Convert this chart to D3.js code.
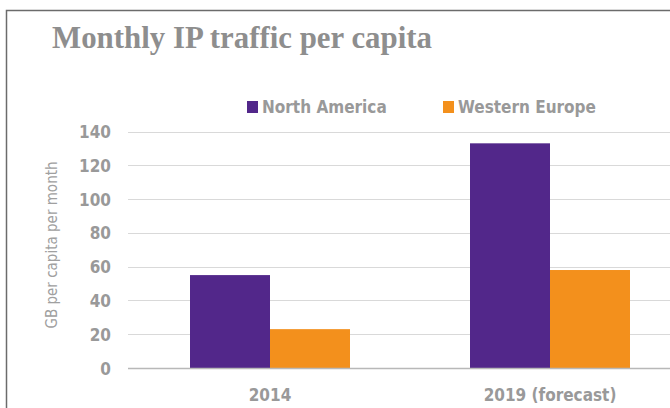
<!DOCTYPE html>
<html>
<head>
<meta charset="utf-8">
<script src="https://cdn.jsdelivr.net/npm/d3@7"></script>
<style>
  html, body { margin: 0; padding: 0; background: #fff; }
  svg { display: block; }
</style>
</head>
<body>
<script>
const categories = ["2014", "2019 (forecast)"];
const seriesNames = ["North America", "Western Europe"];
const northAmerica = [55, 133];
const westernEurope = [23, 58];
const yTicks = [0, 20, 40, 60, 80, 100, 120, 140];

const W = 670, H = 408;
const colors = ["#52278a", "#f3901c"];
const narrow = "'Liberation Sans Narrow', 'Arial Narrow', 'DejaVu Sans Condensed', sans-serif";

const svg = d3.select("body").append("svg").attr("width", W).attr("height", H);

// frame
svg.append("path")
  .attr("d", `M6.5,${H} L6.5,10.5 L${W},10.5`)
  .attr("fill", "none").attr("stroke", "#6b6b6b").attr("stroke-width", 1.5);

// title
svg.append("text")
  .attr("x", 52).attr("y", 48)
  .attr("font-family", "'Liberation Serif', 'DejaVu Serif', serif")
  .attr("font-weight", "bold").attr("font-size", 31)
  .attr("textLength", 380).attr("lengthAdjust", "spacingAndGlyphs")
  .attr("fill", "#8e8e8e")
  .text("Monthly IP traffic per capita");

const x0 = d3.scaleBand().domain(categories).range([130, 690])
  .paddingInner(120 / 280).paddingOuter(60 / 280);
const x1 = d3.scaleBand().domain(seriesNames).range([0, x0.bandwidth()]).padding(0);
const y = d3.scaleLinear().domain([0, 140]).range([368, 131.5]);

// gridlines
const grid = svg.append("g");
grid.selectAll("line").data(yTicks.filter(d => d > 0)).join("line")
  .attr("x1", 128).attr("x2", W)
  .attr("y1", d => Math.round(y(d)) + 0.5).attr("y2", d => Math.round(y(d)) + 0.5)
  .attr("stroke", "#d9d9d9").attr("stroke-width", 1);

// y axis labels
const yAxis = d3.axisLeft(y).tickValues(yTicks).tickSize(0).tickPadding(0);
const yg = svg.append("g").attr("transform", "translate(111,0)").call(yAxis);
yg.select(".domain").remove();
yg.selectAll("text")
  .attr("font-family", narrow).attr("font-weight", "bold").attr("font-size", 17)
  .attr("fill", "#999999").attr("dy", "0.36em");

// bars
const data = categories.map((c, i) => ({ cat: c, vals: [northAmerica[i], westernEurope[i]] }));
const groups = svg.append("g").selectAll("g").data(data).join("g")
  .attr("transform", d => `translate(${x0(d.cat)},0)`);
groups.selectAll("rect").data(d => d.vals.map((v, j) => ({ v, s: seriesNames[j], j }))).join("rect")
  .attr("x", d => x1(d.s)).attr("width", x1.bandwidth())
  .attr("y", d => y(d.v)).attr("height", d => y(0) - y(d.v))
  .attr("fill", d => colors[d.j]);

// baseline
svg.append("line")
  .attr("x1", 128).attr("x2", W).attr("y1", y(0) + 0.5).attr("y2", y(0) + 0.5)
  .attr("stroke", "#b8b8b8").attr("stroke-width", 1.5);

// x axis labels
const xAxis = d3.axisBottom(x0).tickSize(0).tickPadding(0);
const xg = svg.append("g").attr("transform", `translate(0,${y(0)})`).call(xAxis);
xg.select(".domain").remove();
xg.selectAll("text")
  .attr("font-family", narrow).attr("font-weight", "bold").attr("font-size", 17)
  .attr("fill", "#999999").attr("dy", null).attr("y", 33);

// y axis title
svg.append("text")
  .attr("transform", "translate(57,245) rotate(-90)")
  .attr("text-anchor", "middle")
  .attr("font-family", narrow).attr("font-size", 15)
  .attr("fill", "#a0a0a0")
  .text("GB per capita per month");

// legend
const legendX = [247, 443];
const lg = svg.append("g").selectAll("g").data(seriesNames).join("g")
  .attr("transform", (d, i) => `translate(${legendX[i]},101)`);
lg.append("rect").attr("width", 11).attr("height", 12).attr("fill", (d, i) => colors[i]);
lg.append("text").attr("x", 15).attr("y", 12)
  .attr("font-family", narrow).attr("font-weight", "bold").attr("font-size", 17)
  .attr("fill", "#999999").text(d => d);
</script>
</body>
</html>
